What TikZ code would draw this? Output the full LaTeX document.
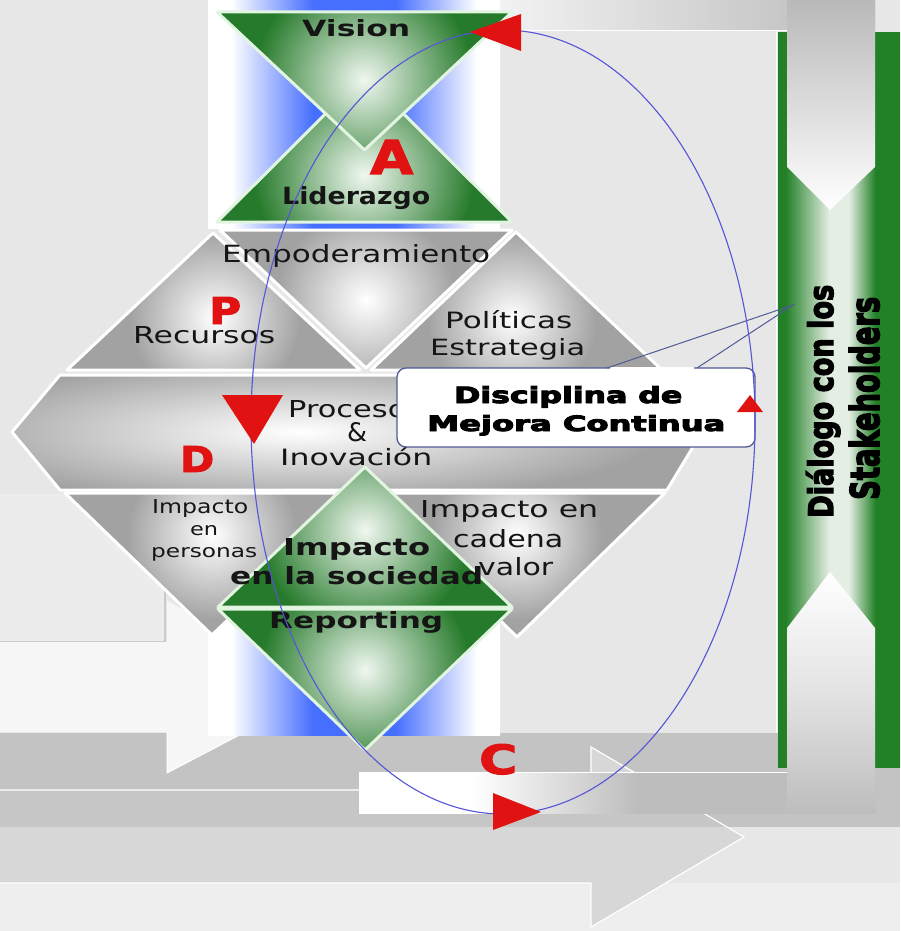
\documentclass[tikz,border=0pt]{standalone}
\usepackage{fontspec}
\usepackage{graphicx}
\setmainfont{DejaVu Sans}
\newfontfamily\heavyfont{DejaVu Sans}[UprightFont=* Bold,FakeBold=4]
\newfontfamily\heavyfontb{DejaVu Sans}[UprightFont=* Bold,FakeBold=2.5]
\definecolor{bg}{HTML}{E7E7E7}
\definecolor{bgl}{HTML}{EEEEEE}
\definecolor{panel}{HTML}{ECECEC}
\definecolor{panelline}{HTML}{CACACA}
\definecolor{bandA}{HTML}{C3C3C3}
\definecolor{arrowB}{HTML}{D7D7D7}
\definecolor{arrowBtop}{HTML}{C6C6C6}
\definecolor{lightG}{HTML}{F6F6F6}
\definecolor{cgray}{HTML}{BDBDBD}
\definecolor{colblue}{RGB}{70,110,255}
\definecolor{gdark}{RGB}{34,128,38}
\definecolor{glight}{RGB}{228,238,228}
\definecolor{grout}{RGB}{38,122,43}
\definecolor{grin}{RGB}{240,247,240}
\definecolor{gredge}{RGB}{225,245,225}
\definecolor{gyout}{HTML}{A2A2A2}
\definecolor{ellcol}{RGB}{85,85,215}
\definecolor{callline}{RGB}{80,90,150}
\definecolor{redA}{RGB}{225,18,18}
\definecolor{txt}{HTML}{151515}
\pgfdeclarehorizontalshading{bluecol}{100bp}{color(0bp)=(white); color(29bp)=(white); color(43bp)=(colblue); color(57bp)=(colblue); color(71bp)=(white); color(100bp)=(white)}
\pgfdeclarehorizontalshading{cband}{100bp}{color(0bp)=(white); color(25bp)=(white); color(36bp)=(white); color(52bp)=(cgray); color(100bp)=(cgray)}
\pgfdeclarehorizontalshading{greenbar}{100bp}{color(0bp)=(gdark); color(28bp)=(gdark); color(46bp)=(glight); color(54bp)=(glight); color(65bp)=(gdark); color(100bp)=(gdark)}
% #1 path, #2 shading shape, #3 inner, #4 outer, #5 outline colour
\newcommand\polyshade[5]{%
  \begin{scope}\clip #1;\fill[#4] #1;\shade[inner color=#3,outer color=#4] #2;\end{scope}%
  \draw[#5,line width=3pt,line join=round] #1;}
\newcommand\fitt[3]{\resizebox{#1pt}{#2pt}{#3}}
\begin{document}
\begin{tikzpicture}[x=1pt,y=-1pt,
  lbl/.style={inner sep=0pt,anchor=base west,text=txt}]
\useasboundingbox (0,0) rectangle (900,931);
% background
\fill[bg] (0,0) rectangle (900,931);
\fill[bgl] (0,883) rectangle (900,931);
% left panel
\fill[panel] (0,494) rectangle (165,642);
\draw[panelline,line width=1.5pt] (165,494) -- (165,642) -- (0,642);
% grey band behind bottom arrows
\fill[bandA] (0,733) rectangle (900,827);
% light arrow
\fill[lightG] (0,642) -- (167,642) -- (167,601) -- (331,687) -- (167,773) -- (167,732) -- (0,732) -- cycle;
\draw[white,line width=1pt] (167,732) -- (167,773) -- (331,687);
% big bottom arrow
\begin{scope}
  \clip (0,790) -- (591,790) -- (591,747) -- (744,837) -- (591,927) -- (591,883) -- (0,883) -- cycle;
  \fill[arrowB] (0,740) rectangle (760,931);
  \fill[arrowBtop] (0,790) rectangle (760,827);
\end{scope}
\draw[white,line width=1.2pt] (0,790) -- (591,790) -- (591,747) -- (744,837) -- (591,927) -- (591,883) -- (0,883);
% gradient band into the upward arrow
\shade[shading=cband] (359,772) rectangle (875,813);
\draw[white,line width=1pt] (359,772) -- (787,772);
% green bar
\shade[shading=greenbar] (778,33) rectangle (900,767);
% upward arrow
\shade[top color=white,bottom color=cgray,middle color=gray!22] (787,813) -- (787,628) -- (830,572) -- (875,628) -- (875,813) -- cycle;
% top band and downward arrow
\shade[left color=gray!10,right color=gray!55] (500,0) rectangle (875,30);
\draw[white,line width=1.2pt] (500,30.5) -- (787,30.5);
\draw[white,line width=1pt] (776.5,31) -- (776.5,733);
\shade[top color=gray!55,bottom color=white] (787,0) -- (875,0) -- (875,167) -- (830,210) -- (787,167) -- cycle;
% blue columns
\shade[shading=bluecol] (208,0) rectangle (500,228);
\shade[shading=bluecol] (208,600) rectangle (500,735);
% grey pieces
\polyshade{(60,375)--(667,375)--(702,432)--(667,490)--(60,490)--(12,432)--cycle}{(300,432) ellipse[x radius=360pt,y radius=72pt]}{white}{gyout}{white}
\polyshade{(67,370)--(360,370)--(213,233)--cycle}{(215,318) circle[radius=85pt]}{white}{gyout}{white}
\polyshade{(220,230)--(512,230)--(366,368)--cycle}{(366,300) circle[radius=90pt]}{white}{gyout}{white}
\polyshade{(371,370)--(662,370)--(516,232)--cycle}{(512,318) circle[radius=85pt]}{white}{gyout}{white}
\polyshade{(65,493)--(360,493)--(212,635)--cycle}{(212,535) circle[radius=85pt]}{white}{gyout}{white}
\polyshade{(370,493)--(665,493)--(517,637)--cycle}{(517,535) circle[radius=85pt]}{white}{gyout}{white}
% green pieces
\polyshade{(217,222)--(512,222)--(364.5,75)--cycle}{(364,175) circle[radius=110pt]}{grin}{grout}{gredge}
\polyshade{(217,12)--(512,12)--(364.5,150)--cycle}{(364,80) circle[radius=110pt]}{grin}{grout}{gredge}
\polyshade{(218,607)--(512,607)--(365,467)--cycle}{(365,530) circle[radius=105pt]}{grin}{grout}{gredge}
\polyshade{(218,609)--(512,609)--(365,750)--cycle}{(365,670) circle[radius=105pt]}{grin}{grout}{gredge}
% labels
\node[lbl] (vision) at (302,37) {\fitt{108}{17}{\bfseries Vision}};
\node[lbl] (lider) at (282,204) {\fitt{148}{18}{\bfseries Liderazgo}};
\node[lbl] (empod) at (222,262) {\fitt{268}{18}{Empoderamiento}};
\node[lbl] (recur) at (133,343) {\fitt{142}{17}{Recursos}};
\node[lbl] (polit) at (445,328) {\fitt{127}{18}{Políticas}};
\node[lbl] (estra) at (430,355) {\fitt{155}{17}{Estrategia}};
\node[lbl] (proc) at (288,417) {\fitt{134}{17}{Procesos}};
\node[lbl] (amp) at (347,441) {\fitt{20}{19}{\&}};
\node[lbl] (inov) at (280,465) {\fitt{152}{18}{Inovación}};
\node[lbl] (imp1) at (152,513) {\fitt{96}{14}{Impacto}};
\node[lbl] (imp2) at (190,535) {\fitt{28}{10}{en}};
\node[lbl] (imp3) at (151,557) {\fitt{106}{10}{personas}};
\node[lbl] (cad1) at (420,517) {\fitt{178}{17}{Impacto en}};
\node[lbl] (cad2) at (453,547) {\fitt{110}{18}{cadena}};
\node[lbl] (cad3) at (478,575) {\fitt{75}{18}{valor}};
\node[lbl] (soc1) at (283,555) {\fitt{147}{17}{\bfseries Impacto}};
\node[lbl] (soc2) at (230,584) {\fitt{253}{18}{\bfseries en la sociedad}};
\node[lbl] (repo) at (269,628) {\fitt{174}{17}{\bfseries Reporting}};
% red letters
\node[lbl,text=redA] (la) at (370,174) {\fitt{43}{34}{\heavyfontb A}};
\node[lbl,text=redA] (lp) at (209,324) {\fitt{32}{27}{\heavyfontb P}};
\node[lbl,text=redA] (ld) at (180,472) {\fitt{34}{26}{\heavyfontb D}};
\node[lbl,text=redA] (lc) at (479,774) {\fitt{38}{30}{\heavyfontb C}};
% stakeholders text
\node[lbl,text=black,rotate=90] (dial1) at (833,518) {\fitt{233}{27}{\heavyfont Diálogo con los}};
\node[lbl,text=black,rotate=90] (dial2) at (879,500) {\fitt{203}{30}{\heavyfont Stakeholders}};
% callout
\draw[callline,line width=1.3pt,fill=white,rounded corners=9pt] (397,368) rectangle (755,447);
\draw[white,line width=2.5pt] (610,368) -- (694,368);
\draw[callline,line width=1pt] (607,368) -- (793,305) -- (697,368);
\node[lbl,text=black] (disc1) at (454,403) {\fitt{228}{17}{\heavyfont Disciplina de}};
\node[lbl,text=black] (disc2) at (427,431) {\fitt{298}{16}{\heavyfont Mejora Continua}};
% improvement cycle
\draw[ellcol,line width=1.1pt] (503,422) ellipse[x radius=252pt,y radius=392pt];
\fill[redA] (470,32) -- (521,14) -- (521,51) -- cycle;
\fill[redA] (222,395) -- (283,395) -- (254,444) -- cycle;
\fill[redA] (541,812) -- (493,793) -- (493,830) -- cycle;
\fill[redA] (750,395) -- (737,412) -- (763,412) -- cycle;
\end{tikzpicture}
\end{document}
